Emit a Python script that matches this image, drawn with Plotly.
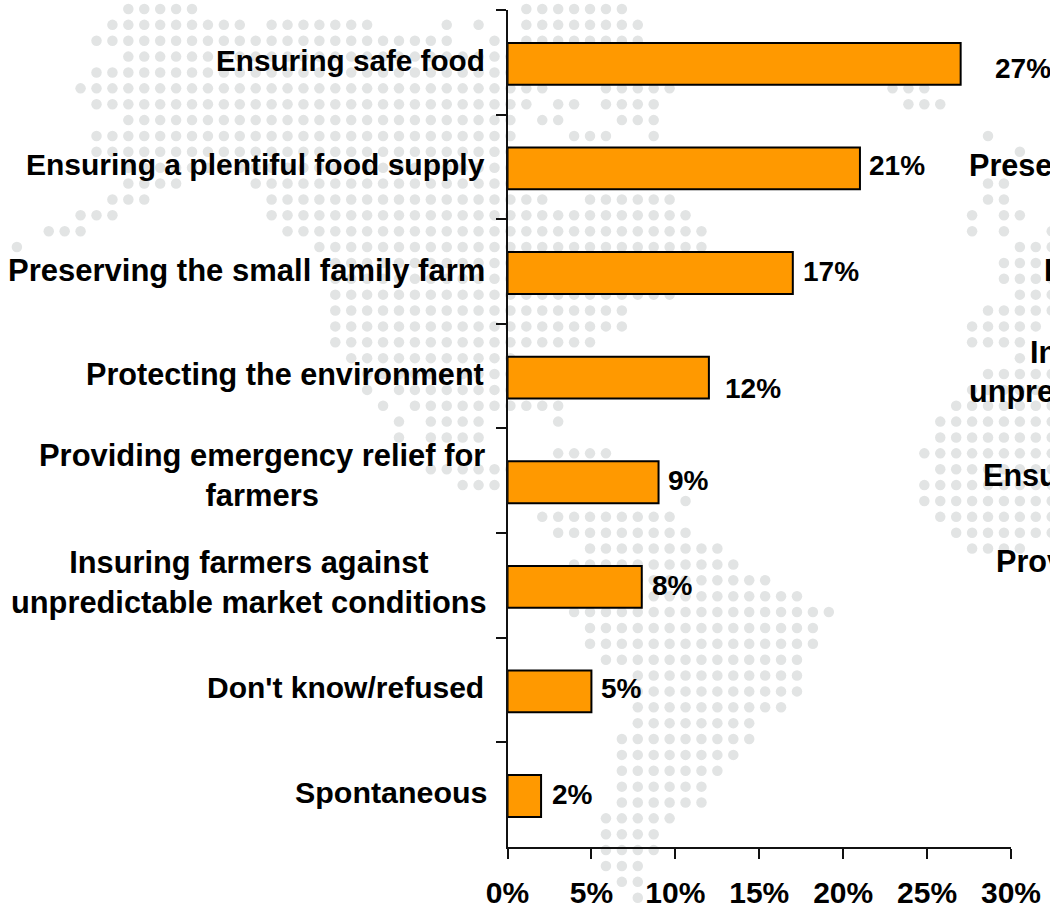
import plotly.graph_objects as go

# ---- data ----
categories = ["Ensuring safe food", "Ensuring a plentiful food supply", "Preserving the small family farm",
              "Protecting the environment", "Providing emergency relief for<br>farmers",
              "Insuring farmers against<br>unpredictable market conditions", "Don't know/refused", "Spontaneous"]
values = [27, 21, 17, 12, 9, 8, 5, 2]
tick_values = [0, 5, 10, 15, 20, 25, 30]
tick_labels = ["0%", "5%", "10%", "15%", "20%", "25%", "30%"]

# clipped labels of a neighbouring chart, seen at the right edge
side_labels = ["Preserving the small family farm", "Protecting the environment",
               "Insuring farmers against", "unpredictable market conditions",
               "Ensuring safe food", "Providing emergency relief for farmers"]

# dotted world map: (grid row, [(first col, last col), ...])
map_cells = [
    (0, [(7, 11), (32, 38)]), (1, [(6, 14), (16, 22), (27, 27), (29, 29), (32, 39)]),
    (2, [(5, 27), (30, 30), (32, 39)]), (3, [(7, 31)]), (4, [(5, 31)]),
    (5, [(4, 33), (37, 41), (55, 57)]), (6, [(5, 32), (34, 35), (37, 40), (56, 58)]),
    (7, [(7, 31), (33, 34), (38, 40)]), (8, [(5, 31), (35, 37), (40, 40), (61, 61)]),
    (9, [(5, 31), (63, 63)]), (10, [(7, 31)]), (11, [(7, 10), (15, 31), (61, 62)]),
    (12, [(6, 8), (16, 33), (36, 41), (61, 62)]), (13, [(4, 6), (16, 42), (60, 60), (62, 63)]),
    (14, [(2, 4), (17, 43), (60, 60), (62, 62), (65, 65)]), (15, [(0, 0), (19, 43), (63, 65)]),
    (16, [(20, 31), (62, 65)]), (17, [(20, 31), (62, 65)]), (18, [(20, 41), (63, 65)]),
    (19, [(20, 38), (61, 65)]), (20, [(20, 38), (60, 64)]), (21, [(20, 36), (60, 63)]),
    (22, [(21, 31), (63, 63)]), (23, [(22, 31), (61, 65)]), (24, [(22, 22), (24, 31), (60, 65)]),
    (25, [(23, 23), (25, 34), (59, 65)]), (26, [(24, 24), (26, 29), (34, 34), (58, 65)]),
    (27, [(24, 24), (26, 29), (58, 65)]), (28, [(34, 37), (57, 65)]),
    (29, [(26, 31), (58, 65)]), (30, [(28, 30), (57, 65)]), (31, [(42, 42), (57, 65)]),
    (32, [(33, 41), (58, 65)]), (33, [(34, 42), (59, 65)]), (34, [(36, 44), (60, 63)]),
    (35, [(35, 45)]), (36, [(36, 47)]), (37, [(36, 49)]), (38, [(35, 51)]), (39, [(36, 50)]),
    (40, [(36, 50)]), (41, [(37, 49)]), (42, [(39, 49)]), (43, [(39, 49)]), (44, [(39, 48)]),
    (45, [(39, 46)]), (46, [(38, 46)]), (47, [(38, 45)]), (48, [(38, 44)]), (49, [(38, 43)]),
    (50, [(38, 43)]), (51, [(37, 41)]), (52, [(37, 40)]), (53, [(37, 40)]), (54, [(37, 39)]),
    (55, [(38, 39)]), (56, [(39, 39)]),
]

# ---- layout constants (pixels) ----
W, H = 1050, 908
PX0, PX1, PY0, PY1 = 507.5, 1011, 10, 846.7
CELL_X, CELL_Y, ORIGIN_X, ORIGIN_Y = 15.92, 15.87, 16.9, 9.0
FONT = "Liberation Sans, Arial, sans-serif"
VALUE_SIZE, TICK_SIZE, SIDE_SIZE = 28, 30, 30.6
label_sizes = [29.7, 30, 31, 30.6, 30.9, 30.8, 30, 30.4]

value_dx = [32, 7, 8, 14, 7, 8, 8, 9]
value_dy = [6, -1, 0, 12, 0, 0, -1, 0]
label_dx = [-21, -21, -21, -22, -21, -19, -22, -19]
label_dy = [-2, -2, -1, -2, -5, -3, -2, -2]
side_x = [967, 1042, 1028, 967, 981, 994]
side_y = [165, 270, 352, 391, 476, 561]

map_x, map_y = [], []
for row, runs in map_cells:
    for a, b in runs:
        for col in range(a, b + 1):
            map_x.append(col)
            map_y.append(row)

fig = go.Figure()
fig.add_trace(go.Scatter(x=map_x, y=map_y, mode="markers", xaxis="x", yaxis="y", hoverinfo="skip",
                         marker=dict(size=10.5, color="#E2E4E4", line=dict(width=0))))
fig.add_trace(go.Bar(x=values, y=categories, orientation="h", xaxis="x2", yaxis="y2", width=0.4, offset=-0.185,
                     marker=dict(color="#FF9900", line=dict(color="#000000", width=2))))

ann = []
for i, (c, v) in enumerate(zip(categories, values)):
    ann.append(dict(xref="x2", yref="y2", x=0, y=c, text="<b>%s</b>" % c, showarrow=False,
                    xanchor="right", yanchor="middle", align="center", xshift=label_dx[i], yshift=-label_dy[i],
                    font=dict(family=FONT, size=label_sizes[i], color="#000")))
    ann.append(dict(xref="x2", yref="y2", x=v, y=c, text="<b>%d%%</b>" % v, showarrow=False,
                    xanchor="left", yanchor="middle", xshift=value_dx[i], yshift=-value_dy[i],
                    font=dict(family=FONT, size=VALUE_SIZE, color="#000")))
for t, sx, sy in zip(side_labels, side_x, side_y):
    ann.append(dict(xref="paper", yref="paper", x=sx / W, y=1 - sy / H, text="<b>%s</b>" % t, showarrow=False,
                    xanchor="left", yanchor="middle", font=dict(family=FONT, size=SIDE_SIZE, color="#000")))

fig.update_layout(
    width=W, height=H, margin=dict(l=0, r=0, t=0, b=0, autoexpand=False), showlegend=False, autosize=False,
    paper_bgcolor="white", plot_bgcolor="rgba(0,0,0,0)", annotations=ann,
    xaxis=dict(domain=[0, 1], range=[-ORIGIN_X / CELL_X, (W - ORIGIN_X) / CELL_X], visible=False, anchor="y"),
    yaxis=dict(domain=[0, 1], range=[(H - ORIGIN_Y) / CELL_Y, -ORIGIN_Y / CELL_Y], visible=False, anchor="x"),
    xaxis2=dict(domain=[PX0 / W, PX1 / W], range=[0, 30], anchor="y2", showgrid=False,
                zeroline=False, showline=True, linecolor="#111", linewidth=2, ticks="outside", ticklen=10,
                tickwidth=2, tickcolor="#111", tickvals=tick_values, ticktext=tick_labels,
                tickfont=dict(family=FONT, size=TICK_SIZE, color="#000", weight="bold"), ticklabelstandoff=8),
    yaxis2=dict(domain=[1 - PY1 / H, 1 - PY0 / H], range=[7.5, -0.5], anchor="x2", type="category",
                categoryorder="array", categoryarray=categories, showgrid=False, zeroline=False, showline=True,
                linecolor="#111", linewidth=2, ticks="outside", ticklen=10, tickwidth=2, tickcolor="#111",
                tickson="boundaries", showticklabels=False),
)
fig.write_html("out.html", post_script="document.body.style.margin='0';", config={"displayModeBar": False})
